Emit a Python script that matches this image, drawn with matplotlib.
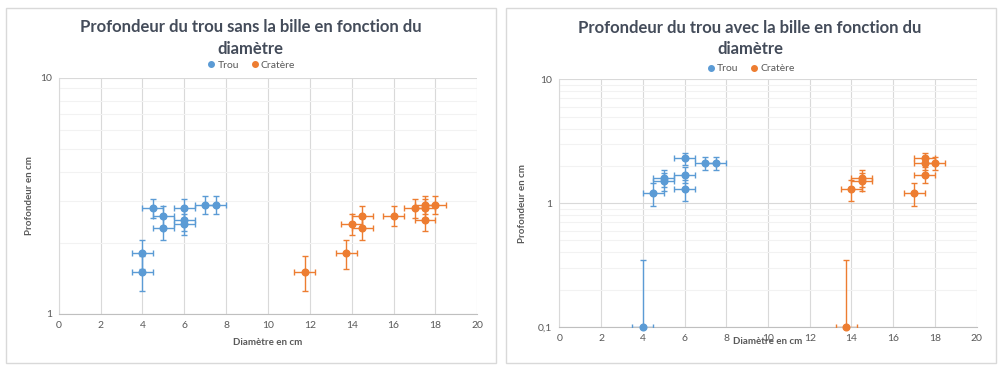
import matplotlib
matplotlib.use("Agg")
import matplotlib.pyplot as plt
from matplotlib.lines import Line2D
from matplotlib.patches import Rectangle
from matplotlib.ticker import FixedLocator, NullFormatter, LogLocator

# ---- data ----
xticks = [0, 2, 4, 6, 8, 10, 12, 14, 16, 18, 20]
err_x = 0.5
err_y = 0.25

left_trou_x = [4, 4, 4.5, 5, 5, 6, 6, 6, 7, 7.5]
left_trou_y = [1.5, 1.8, 2.8, 2.6, 2.3, 2.8, 2.5, 2.4, 2.9, 2.9]
left_crat_x = [11.75, 13.75, 14, 14.5, 14.5, 16, 17, 17.5, 17.5, 17.5, 18]
left_crat_y = [1.5, 1.8, 2.4, 2.6, 2.3, 2.6, 2.8, 2.9, 2.8, 2.5, 2.9]

right_trou_x = [4, 4.5, 5, 5, 6, 6, 6, 7, 7.5]
right_trou_y = [0.1, 1.2, 1.6, 1.5, 2.3, 1.7, 1.3, 2.1, 2.1]
right_crat_x = [13.75, 14, 14.5, 14.5, 17, 17.5, 17.5, 17.5, 18]
right_crat_y = [0.1, 1.3, 1.6, 1.5, 1.2, 2.3, 2.1, 1.7, 2.1]

BLUE, ORANGE = "#5B9BD5", "#ED7D31"
TXT, TITLE = "#595959", "#444c5a"
plt.rcParams["font.family"] = ["Lato", "DejaVu Sans"]

fig = plt.figure(figsize=(10, 3.73), dpi=100)
W, H = 1000, 373


def fx(px): return px / W
def fy(py): return 1 - py / H


def series(ax, xs, ys, color):
    lo = [min(err_y, y * 0.999) for y in ys]
    hi = [err_y] * len(ys)
    eb = ax.errorbar(xs, ys, xerr=err_x, yerr=[lo, hi], fmt="o", color=color,
                     ms=4.8, mec=color, ecolor=color, elinewidth=1, capsize=2,
                     capthick=1, zorder=3)
    eb[0].set_clip_on(False)


def panel(x0, x1, y_top, y_bot, ylim, yt, ylabels, title, tx, ty, legy, data,
          xlab, ylab_x):
    ax = fig.add_axes([fx(x0), fy(y_bot), fx(x1 - x0), (y_bot - y_top) / H])
    ax.set_yscale("log")
    ax.set_xlim(0, 20)
    ax.set_ylim(*ylim)
    ax.xaxis.set_major_locator(FixedLocator(xticks))
    ax.yaxis.set_major_locator(FixedLocator(yt))
    ax.set_yticklabels(ylabels)
    ax.yaxis.set_minor_locator(LogLocator(base=10, subs=range(2, 10)))
    ax.yaxis.set_minor_formatter(NullFormatter())
    ax.tick_params(which="both", length=0, labelsize=7.5, colors=TXT, pad=5)
    ax.grid(True, which="major", color="#d9d9d9", lw=0.8)
    ax.grid(True, which="minor", axis="y", color="#f2f2f2", lw=0.8)
    ax.set_axisbelow(True)
    for s in ("top", "right"):
        ax.spines[s].set_visible(False)
    ax.spines["left"].set_color("#d9d9d9")
    ax.spines["bottom"].set_color("#bfbfbf")
    for xs, ys, c in data:
        series(ax, xs, ys, c)
    for line, yy in zip(title, ty):
        fig.text(fx(tx), fy(yy), line, ha="center", va="center",
                 fontsize=12, fontweight="bold", color=TITLE)
    fig.text(fx(xlab[0]), fy(xlab[1]), "Diamètre en cm", ha="center",
             va="center", fontsize=7, fontweight="bold", color=TXT)
    fig.text(fx(ylab_x), fy((y_top + y_bot) / 2), "Profondeur en cm", ha="center",
             va="center", rotation=90, fontsize=7, fontweight="bold", color=TXT)
    handles = [Line2D([], [], ls="", marker="o", ms=4, color=BLUE),
               Line2D([], [], ls="", marker="o", ms=4, color=ORANGE)]
    fig.legend(handles, ["Trou", "Cratère"], loc="center",
               bbox_to_anchor=(fx(tx), fy(legy)), ncol=2, frameon=False,
               fontsize=7.5, labelcolor=TXT, handletextpad=0.1, columnspacing=1.0,
               handlelength=1.0)
    return ax


for bx in (6, 506):
    fig.patches.append(Rectangle((fx(bx), fy(363)), fx(490), 355 / H,
                                 transform=fig.transFigure, fill=False,
                                 edgecolor="#d9d9d9", lw=1))

panel(58.7, 477.3, 77.7, 313.7, (1, 10), [1, 10], ["1", "10"],
      ["Profondeur du trou sans la bille en fonction du", "diamètre"],
      250.7, (27, 49), 65,
      [(left_trou_x, left_trou_y, BLUE), (left_crat_x, left_crat_y, ORANGE)],
      (268, 342.7), 30)

panel(559.3, 976.7, 79.3, 327, (0.1, 10), [0.1, 1, 10], ["0,1", "1", "10"],
      ["Profondeur du trou avec la bille en fonction du", "diamètre"],
      750, (28.3, 49.3), 68.7,
      [(right_trou_x, right_trou_y, BLUE), (right_crat_x, right_crat_y, ORANGE)],
      (768, 342), 522.7)

fig.savefig("out.png", dpi=100)
